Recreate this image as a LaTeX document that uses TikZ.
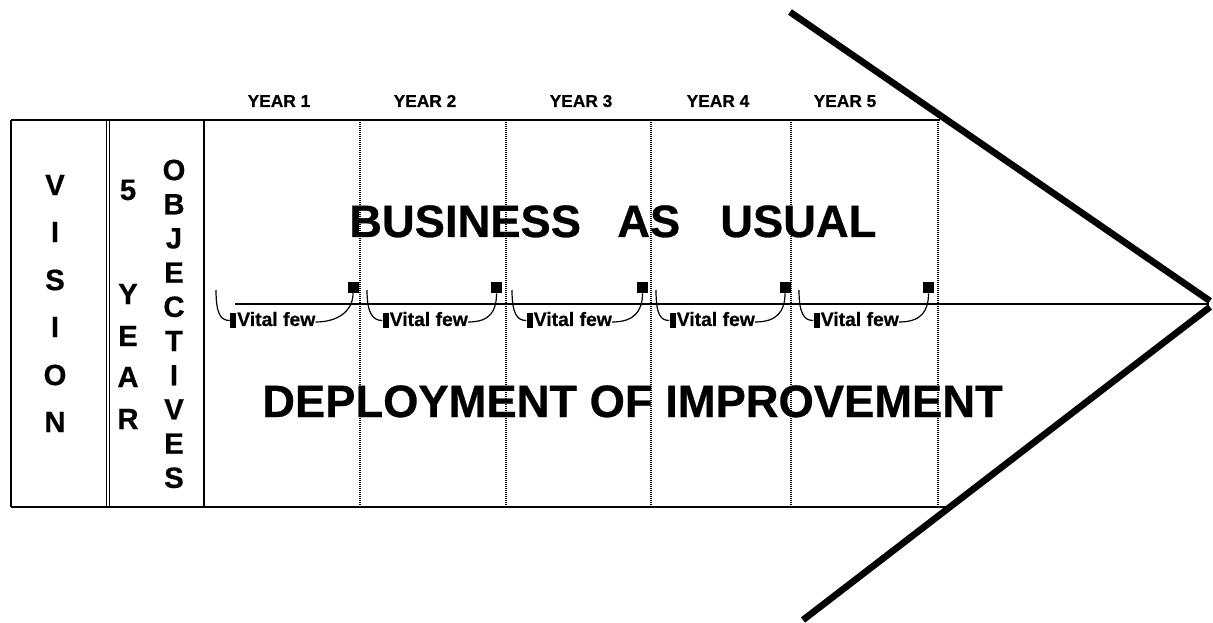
\documentclass[tikz,border=0pt]{standalone}
\usepackage{fontspec}
\setmainfont{Liberation Sans}
\newfontfamily\heavyfont{Liberation Sans Bold}[FakeBold=0.6]
\begin{document}
\begin{tikzpicture}[x=0.75pt,y=-0.75pt,
  frame/.style={line width=1.1pt},
  thinframe/.style={line width=0.9pt},
  sepline/.style={line width=1pt, dash pattern=on 0.75pt off 0.75pt},
  yearlbl/.style={font=\heavyfont\fontsize{13}{15}\selectfont, inner sep=0, anchor=base},
  bigtxt/.style={font=\heavyfont\fontsize{34}{40}\selectfont, inner sep=0, anchor=base west},
  vlet/.style={font=\heavyfont\fontsize{22}{26}\selectfont, inner sep=0},
  vbar/.style={fill=black, minimum width=4.5pt, minimum height=11pt, inner sep=0},
  vsq/.style={fill=black, minimum size=8.25pt, inner sep=0},
  vftxt/.style={font=\heavyfont\fontsize{14.5}{17}\selectfont, inner sep=0, anchor=base west},
  vlink/.style={line width=0.9pt},
  mid/.style={line width=1.4pt},
  chevron/.style={line width=5pt}
]
\useasboundingbox (0,0) rectangle (1213,623);

% frame
\draw[frame] (11,120) -- (940,120);
\draw[frame] (11,507) -- (945,507);
\draw[thinframe] (11,120) -- (11,507);
\draw[thinframe] (106.5,120) -- (106.5,507);
\draw[thinframe] (109.5,120) -- (109.5,507);
\draw[thinframe] (204,120) -- (204,507);

% dotted year separators
\foreach \xx in {360,506,651,791,938}
  \draw[sepline] (\xx,120) -- (\xx,507);

% year labels
\node[yearlbl] (y1) at (279,107) {YEAR 1};
\node[yearlbl] (y2) at (425,107) {YEAR 2};
\node[yearlbl] (y3) at (581,107) {YEAR 3};
\node[yearlbl] (y4) at (718,107) {YEAR 4};
\node[yearlbl] (y5) at (845,107) {YEAR 5};

% vision column
\node[vlet] (v1) at (55,185) {V};
\node[vlet] (v2) at (55,232) {I};
\node[vlet] (v3) at (55,280) {S};
\node[vlet] (v4) at (55,327) {I};
\node[vlet] (v5) at (55,375) {O};
\node[vlet] (v6) at (55,422) {N};

% 5 year column
\node[vlet] (f1) at (128,190) {5};
\node[vlet] (f2) at (128,294) {Y};
\node[vlet] (f3) at (128,336) {E};
\node[vlet] (f4) at (128,377) {A};
\node[vlet] (f5) at (128,419) {R};

% objectives column
\foreach \ch [count=\i] in {O,B,J,E,C,T,I,V,E,S}
  \node[vlet] (o\i) at (174,{170+34.2*(\i-1)}) {\ch};

% big texts
\node[bigtxt] (bus) at (349,237) {BUSINESS};
\node[bigtxt] (as) at (617,237) {AS};
\node[bigtxt] (usual) at (720,237) {USUAL};
\node[bigtxt] (dep) at (262,417) {DEPLOYMENT OF IMPROVEMENT};

% midline and chevron
\coordinate (mstart) at (235,304);
\coordinate (tip) at (1209,304);
\draw[mid] (mstart) -- (tip);
\coordinate (ctop) at (790,12);
\coordinate (tipa) at (1210,301);
\coordinate (tipb) at (1210,307);
\coordinate (cbot) at (803,620);
\draw[chevron] (ctop) -- (tipa);
\draw[chevron] (tipb) -- (cbot);

% vital few groups
\foreach \ax/\bx/\sx [count=\k] in {216/233/353, 367/385.5/496.5, 512/529.5/642.5, 656/672.5/785, 799/816.5/928.5}{
  \coordinate (a\k) at (\ax,290);
  \node[vbar] (b\k) at (\bx,320.5) {};
  \node[vftxt] (t\k) at (\bx+4,326) {Vital few};
  \node[vsq] (s\k) at (\sx,287.5) {};
  \draw[vlink] (a\k) .. controls +(0,24) and +(-9,0) .. (b\k.west);
  \draw[vlink] ([yshift=3pt]t\k.base east) .. controls +(22,0) and +(0,18) .. (s\k.south);
}
\end{tikzpicture}
\end{document}
